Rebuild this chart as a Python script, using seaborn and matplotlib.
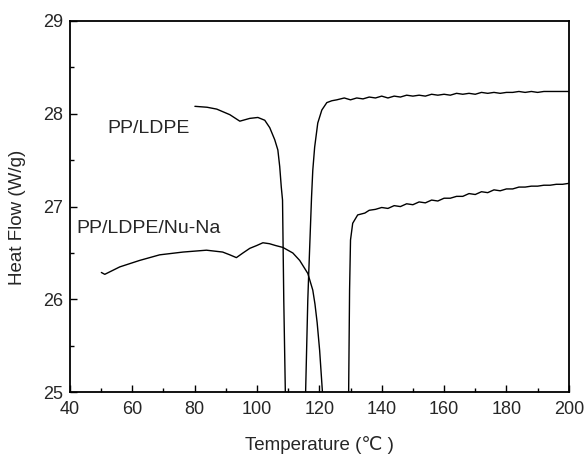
"""DSC cooling curves of PP/LDPE with and without Nu-Na."""

import matplotlib
matplotlib.use("Agg")
import matplotlib.pyplot as plt
from matplotlib.ticker import MultipleLocator
import seaborn as sns

# PP/LDPE curve (values below 25 are off-axis)
pe_temp = [80.1, 84.0, 87.1, 91.3, 94.5, 97.7, 100.3, 102.5, 104.1, 105.7,
           106.7, 107.3, 107.8, 108.2, 108.6, 109.1, 109.4, 112.4, 115.3,
           115.6, 116.3, 116.6, 117.5, 117.9, 118.5, 119.5, 120.8, 122.4,
           124.0, 125.6, 128, 130, 132, 134, 136, 138, 140, 142, 144, 146,
           148, 150, 152, 154, 156, 158, 160, 162, 164, 166, 168, 170, 172,
           174, 176, 178, 180, 182, 184, 186, 188, 190, 192, 194, 196, 198,
           200]
pe_flow = [28.08, 28.07, 28.05, 27.99, 27.92, 27.95, 27.96, 27.93, 27.85, 27.72,
           27.61, 27.43, 27.21, 27.07, 25.99, 25.00, 24.40, 22.50, 24.40,
           25.00, 25.99, 26.28, 27.10, 27.39, 27.64, 27.90, 28.04, 28.12,
           28.14, 28.15, 28.17, 28.15, 28.17, 28.16, 28.18, 28.17, 28.19,
           28.17, 28.19, 28.18, 28.20, 28.19, 28.20, 28.19, 28.21, 28.20,
           28.21, 28.20, 28.22, 28.21, 28.22, 28.21, 28.23, 28.22, 28.23,
           28.22, 28.23, 28.23, 28.24, 28.23, 28.24, 28.23, 28.24, 28.24,
           28.24, 28.24, 28.24]

# PP/LDPE/Nu-Na curve
nu_temp = [50.1, 51.2, 56.0, 62.4, 68.8, 76.3, 83.8, 89.0, 91.3, 93.4, 95.5,
           97.7, 99.9, 101.9, 104.0, 106.0, 108.3, 111.5, 113.7, 116.3, 117.9,
           118.6, 119.3, 120.1, 121.0, 121.4, 125.3, 129.1, 129.4, 129.7,
           130.0, 130.7, 132.3, 134.6, 136, 138, 140, 142, 144, 146, 148, 150,
           152, 154, 156, 158, 160, 162, 164, 166, 168, 170, 172, 174, 176,
           178, 180, 182, 184, 186, 188, 190, 192, 194, 196, 198, 200]
nu_flow = [26.29, 26.27, 26.35, 26.42, 26.48, 26.51, 26.53, 26.51, 26.48, 26.45,
           26.50, 26.55, 26.58, 26.61, 26.60, 26.58, 26.56, 26.50, 26.42,
           26.28, 26.10, 25.95, 25.75, 25.45, 25.00, 24.40, 22.50, 24.40,
           25.00, 26.10, 26.64, 26.82, 26.91, 26.93, 26.96, 26.97, 26.99,
           26.98, 27.01, 27.00, 27.03, 27.02, 27.05, 27.04, 27.07, 27.06,
           27.09, 27.09, 27.11, 27.11, 27.14, 27.13, 27.16, 27.15, 27.18,
           27.17, 27.19, 27.19, 27.21, 27.21, 27.22, 27.22, 27.23, 27.23,
           27.24, 27.24, 27.25]

curve_labels = ["PP/LDPE", "PP/LDPE/Nu-Na"]
label_pos = [(51.9, 27.84), (42.2, 26.76)]

sns.set_theme(style="ticks")
plt.rcParams["font.family"] = ["Liberation Sans", "DejaVu Sans"]

fig = plt.figure(figsize=(5.87, 4.55), dpi=100)
ax = fig.add_axes([0.119, 0.138, 0.850, 0.816])

for temp, flow in [(pe_temp, pe_flow), (nu_temp, nu_flow)]:
    sns.lineplot(x=temp, y=flow, ax=ax, color="black", lw=1.0,
                 sort=False, estimator=None)

for text, (tx, ty) in zip(curve_labels, label_pos):
    ax.text(tx, ty, text, fontsize=14, va="center", ha="left")

ax.set_xlim(40, 200)
ax.set_ylim(25, 29)
ax.xaxis.set_major_locator(MultipleLocator(20))
ax.xaxis.set_minor_locator(MultipleLocator(10))
ax.yaxis.set_major_locator(MultipleLocator(1))
ax.yaxis.set_minor_locator(MultipleLocator(0.5))
ax.tick_params(which="both", direction="in", top=False, right=False,
               width=1.0, color="black")
ax.tick_params(which="major", length=5, labelsize=13)
ax.tick_params(axis="x", which="major", pad=6)
ax.tick_params(axis="y", which="major", pad=5)
ax.tick_params(which="minor", length=3)

for sp in ax.spines.values():
    sp.set_visible(True)
    sp.set_linewidth(1.3)
    sp.set_color("black")

ax.set_xlabel("Temperature (℃ )", fontsize=13.5, labelpad=13)
ax.set_ylabel("Heat Flow (W/g)", fontsize=13.5)
ax.yaxis.set_label_coords(-0.088, 0.47)

fig.savefig("out.png", dpi=100)
